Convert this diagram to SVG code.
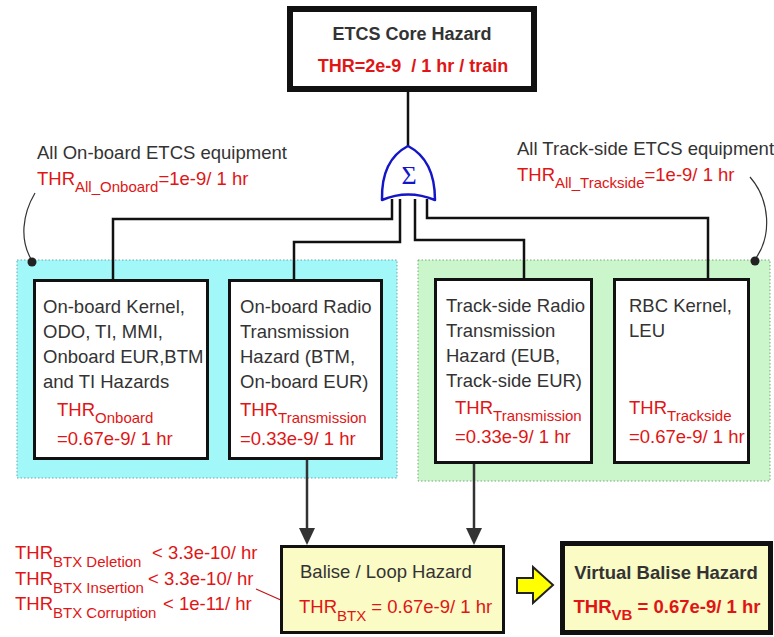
<svg xmlns="http://www.w3.org/2000/svg" width="774" height="637" viewBox="0 0 774 637">
<defs>
<style>
text{font-family:"Liberation Sans",Arial,sans-serif;font-size:18.5px;fill:#333;white-space:pre}
.r{fill:#e01515}
.b{font-weight:bold}
.s{font-size:15px}
.box{fill:#fff;stroke:#111;stroke-width:3}
.ybox{fill:#fbfbc6;stroke:#111;stroke-width:3}
.wire{fill:none;stroke:#111;stroke-width:2.5}
.arr{fill:none;stroke:#333;stroke-width:2.5}
.lead{fill:none;stroke:#333;stroke-width:1.2}
</style>
</defs>
<rect width="774" height="637" fill="#fff"/>

<g id="region-onboard">
<rect x="17" y="260" width="380" height="218" fill="#a2f8f8" stroke="#6aa" stroke-width="1" stroke-dasharray="1.5,2"/>
</g>
<g id="region-trackside">
<rect x="418" y="260" width="352" height="221" fill="#cbf6cb" stroke="#7a7" stroke-width="1" stroke-dasharray="1.5,2"/>
</g>

<g id="connectors">
<line class="wire" x1="408" y1="92" x2="408" y2="147"/>
<polyline class="wire" points="392,199 392,219 113,219 113,279"/>
<polyline class="wire" points="400,199 400,242 294,242 294,279"/>
<polyline class="wire" points="415,199 415,240 524,240 524,278"/>
<polyline class="wire" points="427,199 427,218 708,218 708,278"/>
<line class="arr" x1="307" y1="460" x2="307" y2="530"/>
<path d="M299,528 L315,528 L307,545 Z" fill="#333"/>
<line class="arr" x1="474" y1="464" x2="474" y2="530"/>
<path d="M466,528 L482,528 L474,545 Z" fill="#333"/>
<path class="lead" d="M35,193 C22,215 20,240 31,259"/>
<circle cx="32" cy="262" r="4.5" fill="#222"/>
<path class="lead" d="M750,177 C770,200 772,235 756,258"/>
<circle cx="755" cy="261" r="4.5" fill="#222"/>
<line x1="256" y1="589" x2="292" y2="605" stroke="#c01515" stroke-width="1.2"/>
<circle cx="292" cy="605" r="3.5" fill="#d01515"/>
<path d="M517,578 L533,578 L533,567 L553,585 L533,603 L533,593 L517,593 Z" fill="#ffff00" stroke="#222" stroke-width="2"/>
</g>

<g id="node-core">
<rect x="290" y="9" width="244" height="80" fill="#fff" stroke="#111" stroke-width="6"/>
<text class="b" x="412" y="40" text-anchor="middle" style="font-size:18px">ETCS Core Hazard</text>
<text class="r b" x="413" y="72" text-anchor="middle" style="font-size:18px">THR=2e-9  / 1 hr / train</text>
</g>

<g id="or-gate">
<path d="M382,200 Q381,160 408,146 Q435,160 435,200 Q408,189 382,200 Z" fill="#fff" stroke="#1414c8" stroke-width="2.5" stroke-linejoin="round"/>
<text x="409" y="184" text-anchor="middle" style="font-family:'Liberation Serif',serif;font-size:26px;fill:#1414c8">Σ</text>
</g>

<g id="label-onboard">
<text x="37" y="159">All On-board ETCS equipment</text>
<text class="r" x="37" y="185">THR<tspan class="s" dy="7">All_Onboard</tspan><tspan dy="-7">=1e-9/ 1 hr</tspan></text>
</g>
<g id="label-trackside">
<text x="517" y="155">All Track-side ETCS equipment</text>
<text class="r" x="517" y="181">THR<tspan class="s" dy="7">All_Trackside</tspan><tspan dy="-7">=1e-9/ 1 hr</tspan></text>
</g>

<g id="node-onboard-kernel">
<rect class="box" x="34.5" y="280.5" width="173" height="178"/>
<text x="43" y="313">On-board Kernel,</text>
<text x="43" y="338">ODO, TI, MMI,</text>
<text x="43" y="363">Onboard EUR,BTM</text>
<text x="43" y="388">and TI Hazards</text>
<text class="r" x="57" y="416">THR<tspan class="s" dy="7">Onboard</tspan></text>
<text class="r" x="57" y="445">=0.67e-9/ 1 hr</text>
</g>

<g id="node-onboard-radio">
<rect class="box" x="229.5" y="280.5" width="152" height="178"/>
<text x="240" y="313">On-board Radio</text>
<text x="240" y="338">Transmission</text>
<text x="240" y="363">Hazard (BTM,</text>
<text x="240" y="388">On-board EUR)</text>
<text class="r" x="240" y="416">THR<tspan class="s" dy="7">Transmission</tspan></text>
<text class="r" x="240" y="445">=0.33e-9/ 1 hr</text>
</g>

<g id="node-trackside-radio">
<rect class="box" x="435.5" y="279.5" width="156" height="183"/>
<text x="446" y="312">Track-side Radio</text>
<text x="446" y="337">Transmission</text>
<text x="446" y="362">Hazard (EUB,</text>
<text x="446" y="387">Track-side EUR)</text>
<text class="r" x="455" y="414">THR<tspan class="s" dy="7">Transmission</tspan></text>
<text class="r" x="455" y="443">=0.33e-9/ 1 hr</text>
</g>

<g id="node-rbc">
<rect class="box" x="614.5" y="279.5" width="134" height="183"/>
<text x="629" y="312">RBC Kernel,</text>
<text x="629" y="337">LEU</text>
<text class="r" x="629" y="414">THR<tspan class="s" dy="7">Trackside</tspan></text>
<text class="r" x="629" y="443">=0.67e-9/ 1 hr</text>
</g>

<g id="label-btx">
<text class="r" x="15" y="559">THR<tspan class="s" dy="8">BTX Deletion</tspan></text>
<text class="r" x="152" y="559">&lt; 3.3e-10/ hr</text>
<text class="r" x="15" y="585">THR<tspan class="s" dy="8">BTX Insertion</tspan></text>
<text class="r" x="148" y="585">&lt; 3.3e-10/ hr</text>
<text class="r" x="15" y="610">THR<tspan class="s" dy="8">BTX Corruption</tspan></text>
<text class="r" x="163" y="610">&lt; 1e-11/ hr</text>
</g>

<g id="node-balise">
<rect class="ybox" x="281.5" y="546.5" width="222" height="86"/>
<text x="300" y="578">Balise / Loop Hazard</text>
<text class="r" x="299" y="613">THR<tspan class="s" dy="8">BTX</tspan><tspan dy="-8"> = 0.67e-9/ 1 hr</tspan></text>
</g>

<g id="node-virtual-balise">
<rect x="562.5" y="543.5" width="208" height="89" fill="#fbfbc6" stroke="#111" stroke-width="5"/>
<text class="b" x="666" y="579" text-anchor="middle">Virtual Balise Hazard</text>
<text class="r b" x="667" y="613" text-anchor="middle">THR<tspan class="s" dy="7">VB</tspan><tspan dy="-7"> = 0.67e-9/ 1 hr</tspan></text>
</g>
</svg>
